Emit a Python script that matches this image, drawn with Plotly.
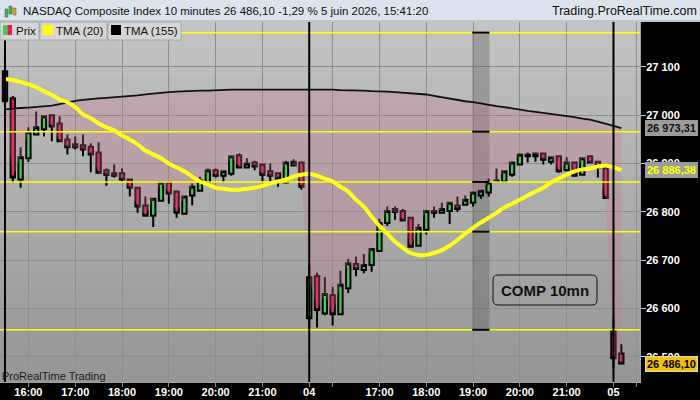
import plotly.graph_objects as go

# ---------------- data ----------------
opens  = [27091,27035,26867,26911,26960,26971,27000,26983,26950,26940,
          26938,26935,26923,26886,26880,26880,26867,26850,26813,26792,
          26823,26861,26842,26796,26834,26844,26861,26886,26875,26879,
          26917,26892,26902,26898,26884,26880,26861,26896,26902,
          26580,26667,26590,26628,26588,26642,26692,26680,26690,26719,
          26777,26806,26802,26788,26730,26763,26802,26798,26802,26813,
          26815,26819,26834,26840,26865,26863,26877,26898,26915,26915,
          26921,26904,26915,26886,26902,26877,26915,26904,26890,
          26555,26507]
highs  = [27131,27040,26934,26975,27008,27000,27002,26998,26960,26956,
          26960,26942,26944,26890,26898,26890,26869,26852,26832,26827,
          26863,26861,26842,26832,26859,26873,26890,26890,26884,26915,
          26921,26911,26906,26898,26900,26880,26906,26909,26902,
          26690,26674,26665,26645,26678,26703,26707,26713,26723,26786,
          26811,26811,26806,26790,26775,26804,26811,26819,26819,26832,
          26834,26840,26846,26869,26890,26886,26902,26921,26923,26923,
          26921,26915,26915,26913,26904,26913,26917,26904,26894,
          26586,26526]
lows   = [27015,26860,26850,26904,26958,26956,26946,26944,26919,26929,
          26915,26882,26880,26854,26871,26863,26832,26798,26790,26769,
          26821,26817,26788,26796,26813,26842,26861,26871,26861,26875,
          26892,26890,26886,26863,26863,26852,26860,26894,26846,
          26555,26561,26586,26565,26588,26632,26667,26673,26676,26719,
          26771,26784,26780,26728,26728,26753,26788,26796,26775,26800,
          26813,26811,26827,26832,26863,26863,26873,26898,26902,26904,
          26898,26898,26881,26884,26875,26877,26900,26871,26829,
          26476,26484]
closes = [27029,26871,26913,26965,26975,26998,26977,26946,26934,26934,
          26929,26919,26881,26877,26875,26867,26850,26811,26792,26827,
          26861,26838,26798,26832,26852,26865,26886,26875,26884,26915,
          26892,26900,26894,26877,26875,26869,26902,26904,26852,
          26665,26597,26630,26588,26649,26694,26682,26690,26723,26777,
          26802,26800,26782,26728,26767,26802,26798,26806,26819,26806,
          26825,26840,26844,26861,26863,26884,26902,26919,26919,26921,
          26908,26913,26884,26902,26875,26911,26902,26892,26829,
          26497,26486.10]
tma20  = [27075,27073,27069,27064,27058,27050,27042,27033,27027,27017,
          27002,26994,26983,26975,26969,26958,26950,26940,26927,26919,
          26911,26900,26892,26884,26873,26863,26857,26850,26848,26846,
          26846,26848,26850,26854,26859,26863,26867,26873,26877,
          26879,26875,26869,26863,26852,26842,26825,26811,26790,26771,
          26755,26738,26726,26715,26711,26711,26715,26721,26730,26742,
          26755,26767,26778,26788,26798,26809,26817,26825,26834,26842,
          26850,26861,26869,26877,26884,26888,26890,26894,26896,
          26892,26886.38]
tma155 = [27012,27014,27015,27016,27017,27018,27020,27023,27027,27030,
          27032,27034,27035,27036,27037,27039,27040,27041,27043,27045,
          27047,27048,27049,27050,27050,27051,27051,27052,27052,27053,
          27053,27053,27054,27054,27054,27054,27054,27054,27054,
          27054,27054,27053,27053,27052,27052,27051,27051,27050,27050,
          27049,27048,27047,27046,27045,27043,27040,27037,27035,27032,
          27029,27027,27024,27022,27019,27017,27014,27012,27009,27007,
          27005,27002,27000,26998,26996,26993,26991,26987,26983,
          26978,26973.31]
levels = [27171, 26966, 26862, 26759, 26556]        # horizontal yellow lines
day_starts = [0, 39, 78]                            # candle index of each session open
tick_pos = [3, 9, 15, 21, 27, 33, 39, 42, 48, 54, 60, 66, 72, 78, 81]
tick_txt = ["16:00", "17:00", "18:00", "19:00", "20:00", "21:00", "04", "",
            "17:00", "18:00", "19:00", "20:00", "21:00", "05", ""]
y_ticks = [26500, 26600, 26700, 26800, 26900, 27000, 27100]
y_ticktext = ["26 500", "26 600", "26 700", "26 800", "26 900", "27 000", "27 100"]
band_idx = [59.9, 62.1]   # grey vertical band of the drawing tool

X_RANGE = [-0.64, 81.4]
Y_RANGE = [26448, 27193]

xs = list(range(len(closes)))
W, H = 700, 400
ML, MR, MT, MB = 0, 60, 22, 18
PW, PH = W - ML - MR, H - MT - MB

def px(x):
    return (x - ML) / PW

def py(y):
    return (H - MB - y) / PH

FONT = "Liberation Sans, Arial, sans-serif"
GREEN = "#3fcf4c"
RED = "#ee1a4b"

fig = go.Figure()

# pink cloud between TMA155 and price
lower = [min(c, t) for c, t in zip(closes, tma155)]
fig.add_trace(go.Scatter(x=xs, y=lower, mode="lines", line=dict(width=0),
                         hoverinfo="skip", showlegend=False))
fig.add_trace(go.Scatter(x=xs, y=tma155, mode="lines", line=dict(width=0),
                         fill="tonexty", fillcolor="rgba(200,120,150,0.30)",
                         hoverinfo="skip", showlegend=False))
# horizontal yellow levels
for lv in levels:
    fig.add_trace(go.Scatter(x=X_RANGE, y=[lv, lv], mode="lines",
                             line=dict(color="#ffff00", width=1.5),
                             hoverinfo="skip", showlegend=False))
# moving averages
fig.add_trace(go.Scatter(x=xs, y=tma155, mode="lines",
                         line=dict(color="#111111", width=1.8), showlegend=False))
fig.add_trace(go.Scatter(x=xs, y=tma20, mode="lines",
                         line=dict(color="#ffff1a", width=4, shape="spline"),
                         showlegend=False))
# candles
fig.add_trace(go.Candlestick(
    x=xs, open=opens, high=highs, low=lows, close=closes,
    increasing=dict(fillcolor=GREEN, line=dict(color="black", width=2)),
    decreasing=dict(fillcolor=RED, line=dict(color="black", width=2)),
    whiskerwidth=0, showlegend=False))

shapes = []
# background gradient
N = 40
for k in range(N):
    t = k / (N - 1)
    g = int(196 - (196 - 150) * t)
    shapes.append(dict(type="rect", xref="paper", yref="paper",
                       x0=0, x1=1, y0=1 - (k + 1) / N, y1=1 - k / N,
                       fillcolor=f"rgb({g},{g},{g})", line=dict(width=0),
                       layer="below"))
# grey band of drawing tool
shapes.append(dict(type="rect", xref="x", yref="y", x0=band_idx[0], x1=band_idx[1],
                   y0=levels[-1], y1=levels[0], fillcolor="rgba(90,90,90,0.35)",
                   line=dict(width=0), layer="between"))
for lv in levels:
    shapes.append(dict(type="line", xref="x", yref="y", x0=band_idx[0], x1=band_idx[1],
                       y0=lv, y1=lv, line=dict(color="black", width=2), layer="above"))
# session separators
for d in day_starts:
    shapes.append(dict(type="line", xref="x", yref="paper", x0=d, x1=d, y0=0, y1=1,
                       line=dict(color="black", width=2), layer="above"))
# header bar
shapes.append(dict(type="rect", xref="paper", yref="paper", x0=px(0), x1=px(W),
                   y0=py(MT), y1=py(0), fillcolor="#dbe4ec",
                   line=dict(width=0), layer="above"))
shapes.append(dict(type="rect", xref="paper", yref="paper", x0=px(0), x1=px(W),
                   y0=py(MT) + 0.5 / PH, y1=py(MT) + 1.5 / PH, fillcolor="#9aaab8",
                   line=dict(width=0), layer="above"))
# header icon
for (x0, x1, y0, y1, c) in [(5, 8, 9, 17, "#3fb34c"), (9, 12, 6, 14, "#3fb34c"),
                            (13, 16, 8, 15, "#e8a020")]:
    shapes.append(dict(type="rect", xref="paper", yref="paper", x0=px(x0), x1=px(x1),
                       y0=py(y1), y1=py(y0), fillcolor=c,
                       line=dict(color="#555", width=0.5), layer="above"))
# legend boxes
for (x0, x1) in [(0, 39), (40, 107), (108, 181)]:
    shapes.append(dict(type="rect", xref="paper", yref="paper", x0=px(x0), x1=px(x1),
                       y0=py(40), y1=py(22), fillcolor="#d6d6d6",
                       line=dict(color="#a8a8a8", width=1), layer="above"))
shapes.append(dict(type="rect", xref="paper", yref="paper", x0=px(3), x1=px(7.5),
                   y0=py(35), y1=py(25), fillcolor=GREEN, line=dict(width=0), layer="above"))
shapes.append(dict(type="rect", xref="paper", yref="paper", x0=px(7.5), x1=px(12),
                   y0=py(35), y1=py(25), fillcolor=RED, line=dict(width=0), layer="above"))
shapes.append(dict(type="rect", xref="paper", yref="paper", x0=px(43), x1=px(53),
                   y0=py(35), y1=py(25), fillcolor="#ffff00", line=dict(width=0), layer="above"))
shapes.append(dict(type="rect", xref="paper", yref="paper", x0=px(111), x1=px(121),
                   y0=py(35), y1=py(25), fillcolor="#000000", line=dict(width=0), layer="above"))

# rounded box for "COMP 10mn"
def rounded_rect(x0, y0, x1, y1, r):
    X0, X1 = px(x0), px(x1)
    Y0, Y1 = py(y1), py(y0)   # paper y (bottom, top)
    rx, ry = r / PW, r / PH
    return (f"M {X0+rx},{Y1} L {X1-rx},{Y1} Q {X1},{Y1} {X1},{Y1-ry} "
            f"L {X1},{Y0+ry} Q {X1},{Y0} {X1-rx},{Y0} L {X0+rx},{Y0} "
            f"Q {X0},{Y0} {X0},{Y0+ry} L {X0},{Y1-ry} Q {X0},{Y1} {X0+rx},{Y1} Z")

shapes.append(dict(type="path", xref="paper", yref="paper",
                   path=rounded_rect(493, 275, 597, 305, 5),
                   line=dict(color="#111", width=1), layer="above"))

annotations = []
annotations.append(dict(xref="paper", yref="paper", x=px(21), y=py(11),
                        xanchor="left", yanchor="middle", showarrow=False,
                        text="NASDAQ Composite Index 10 minutes 26 486,10 -1,29 % 5 juin 2026, 15:41:20",
                        font=dict(family=FONT, size=11.5, color="#101010")))
annotations.append(dict(xref="paper", yref="paper", x=px(699), y=py(11),
                        xanchor="right", yanchor="middle", showarrow=False,
                        text="Trading.ProRealTime.com",
                        font=dict(family=FONT, size=12.5, color="#101010")))
for (x, t) in [(14, "Prix"), (54, "TMA (20)"), (122, "TMA (155)")]:
    annotations.append(dict(xref="paper", yref="paper", x=px(x), y=py(31),
                            xanchor="left", yanchor="middle", showarrow=False, text=t,
                            font=dict(family=FONT, size=11.5, color="#101010")))
annotations.append(dict(xref="paper", yref="paper", x=px(545), y=py(290),
                        xanchor="center", yanchor="middle", showarrow=False,
                        text="<b>COMP 10mn</b>",
                        font=dict(family=FONT, size=15, color="#111")))
annotations.append(dict(xref="paper", yref="paper", x=px(0), y=py(376),
                        xanchor="left", yanchor="middle", showarrow=False,
                        text="ProRealTime Trading",
                        font=dict(family=FONT, size=11, color="#1a1a1a")))
# price boxes on the right axis
for (v, txt, bg, fg) in [(tma155[-1], "26 973,31", "#9c9c9c", "#111111"),
                         (tma20[-1], "26 886,38", "#9c9c9c", "#ffff00"),
                         (closes[-1], "26 486,10", "#f5c400", "#000000")]:
    annotations.append(dict(xref="paper", yref="y", x=px(645), y=v,
                            xanchor="left", yanchor="middle", showarrow=False,
                            text=f"<b>{txt}</b>", bgcolor=bg, borderpad=1,
                            bordercolor="#d8d8d8" if bg == "#f5c400" else bg,
                            borderwidth=1,
                            font=dict(family=FONT, size=11, color=fg)))

fig.update_layout(
    width=W, height=H,
    margin=dict(l=ML, r=MR, t=MT, b=MB, autoexpand=False),
    paper_bgcolor="black", plot_bgcolor="#b0b0b0", boxgap=0.2,
    shapes=shapes, annotations=annotations, showlegend=False,
    xaxis=dict(range=X_RANGE, tickmode="array", tickvals=tick_pos, ticktext=tick_txt,
               showgrid=True, gridcolor="#8e8e8e", gridwidth=1, zeroline=False,
               ticks="outside", ticklen=4, tickcolor="#8a8a8a", ticklabelstandoff=-4,
               showline=True, linecolor="#a0a0a0", linewidth=1,
               rangeslider=dict(visible=False),
               tickfont=dict(family=FONT, size=11, color="white", weight="bold")),
    yaxis=dict(range=Y_RANGE, side="right", tickmode="array", tickvals=y_ticks,
               ticktext=y_ticktext, showgrid=True, gridcolor="#8e8e8e", gridwidth=1,
               zeroline=False, ticks="outside", ticklen=5, tickcolor="#cccccc",
               ticklabelstandoff=-2,
               showline=True, linecolor="#a0a0a0", linewidth=1,
               tickfont=dict(family=FONT, size=11, color="white", weight="bold")),
)

fig.write_html("out.html", config={"displayModeBar": False},
               post_script="document.body.style.margin='0';"
                           "document.body.style.background='black';")
